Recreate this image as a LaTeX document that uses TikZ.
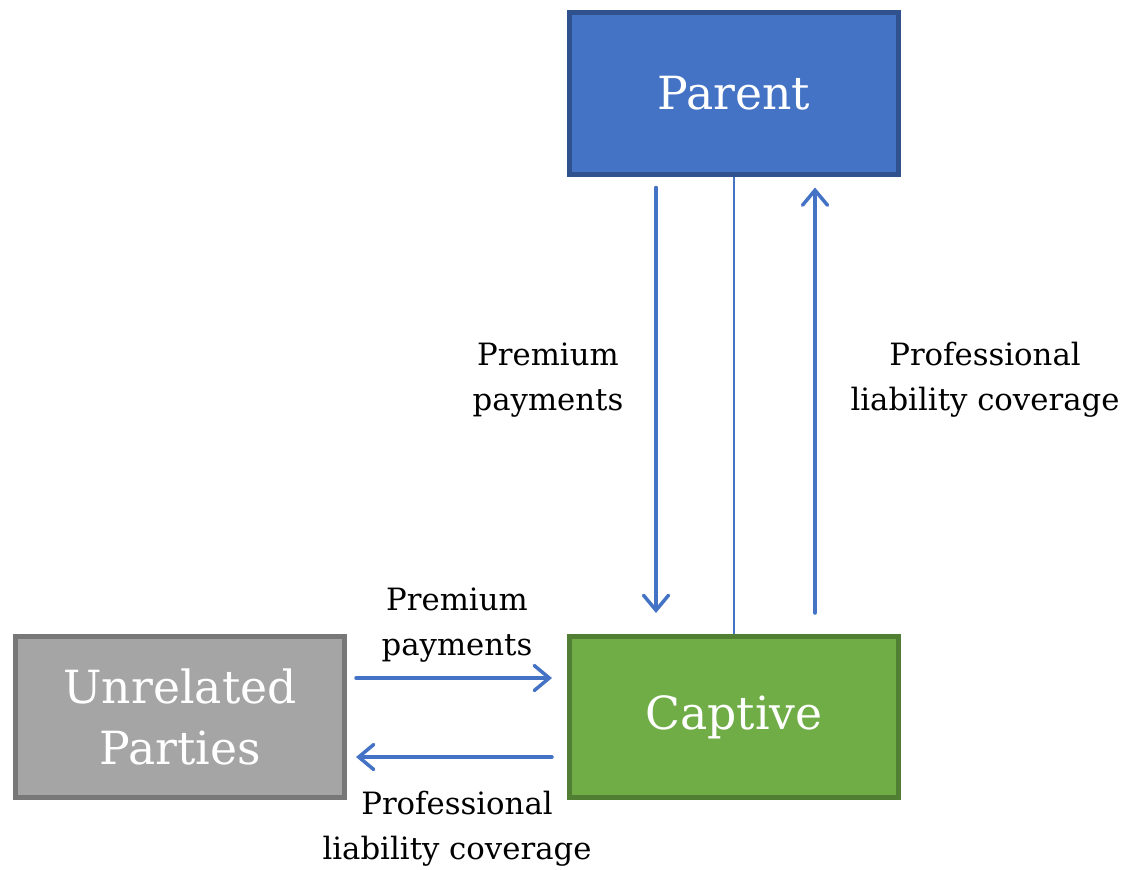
\documentclass[tikz,border=0pt]{standalone}
\usepackage{fontspec}
\setmainfont{DejaVu Serif}
\usetikzlibrary{arrows.meta}

\definecolor{accblue}{HTML}{4472C4}
\definecolor{accblueline}{HTML}{2F528F}
\definecolor{accgreen}{HTML}{70AD47}
\definecolor{accgreenline}{HTML}{507E32}
\definecolor{accgray}{HTML}{A5A5A5}
\definecolor{accgrayline}{HTML}{787878}

\tikzset{
  party/.style={draw, line width=0.1cm, minimum width=6.58cm, minimum height=3.22cm,
    text=white, align=center, font=\fontsize{26}{35}\selectfont},
  flow/.style={draw=accblue, line width=0.07cm, line cap=round,
    -{Straight Barb[length=0.3cm, width=0.5cm, line cap=round]}},
  tag/.style={align=center, font=\fontsize{17.5}{25.6}\selectfont}
}

\begin{document}
\begin{tikzpicture}
\useasboundingbox (0,0) rectangle (22.5,-17.38);

\node[party, fill=accblue, draw=accblueline] (parent) at (14.68,-1.87) {Parent};
\node[party, fill=accgreen, draw=accgreenline] (captive) at (14.68,-14.34) {Captive};
\node[party, fill=accgray, draw=accgrayline] (unrel) at (3.6,-14.34) {Unrelated\\Parties};

% parent <-> captive
\draw[accblue, line width=0.04cm] (parent.south) -- (captive.north);
\draw[flow] ([xshift=-1.56cm,yshift=-0.22cm]parent.south) -- ([xshift=-1.56cm,yshift=0.42cm]captive.north);
\draw[flow] ([xshift=1.62cm,yshift=0.42cm]captive.north) -- ([xshift=1.62cm,yshift=-0.22cm]parent.south);

% unrelated parties <-> captive
\draw[flow] ([xshift=0.18cm,yshift=0.78cm]unrel.east) -- ([xshift=-0.3cm,yshift=0.78cm]captive.west);
\draw[flow] ([xshift=-0.3cm,yshift=-0.8cm]captive.west) -- ([xshift=0.18cm,yshift=-0.8cm]unrel.east);

\node[tag] (premup) at (10.96,-7.6) {Premium\\payments};
\node[tag] (covup) at (19.7,-7.6) {Professional\\liability coverage};
\node[tag] (premside) at (9.14,-12.5) {Premium\\payments};
\node[tag] (covside) at (9.14,-16.58) {Professional\\liability coverage};
\end{tikzpicture}
\end{document}
